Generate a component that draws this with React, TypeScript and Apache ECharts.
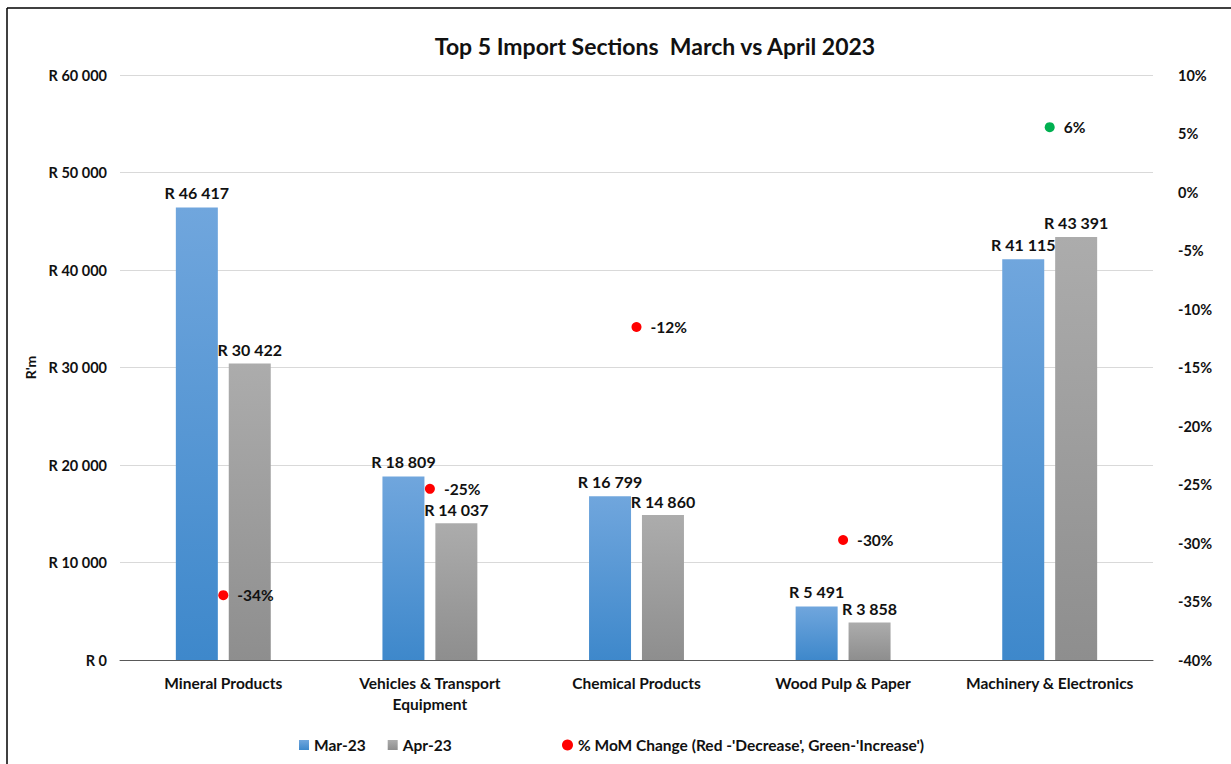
import React, { useEffect, useRef } from "react";
import * as echarts from "echarts";

const categories = [
  "Mineral Products",
  "Vehicles & Transport\nEquipment",
  "Chemical Products",
  "Wood Pulp & Paper",
  "Machinery & Electronics",
];
const mar23 = [46417, 18809, 16799, 5491, 41115];
const apr23 = [30422, 14037, 14860, 3858, 43391];
const momChange = [-34.46, -25.37, -11.54, -29.74, 5.54];
const leftTicks = { min: 0, max: 60000, interval: 10000 };
const rightTicks = { min: -40, max: 10, interval: 5 };

const FONT = "Lato, 'Liberation Sans', sans-serif";

function fmtR(v: number) {
  return "R " + Math.round(v).toString().replace(/\B(?=(\d{3})+(?!\d))/g, " ");
}

export default function App() {
  const ref = useRef<HTMLDivElement>(null);
  useEffect(() => {
    if (!ref.current) return;
    const chart = echarts.init(ref.current, undefined, { renderer: "svg" });
    const blue = new echarts.graphic.LinearGradient(0, 0, 0, 1, [
      { offset: 0, color: "#70a6dd" },
      { offset: 1, color: "#3e88cb" },
    ]);
    const gray = new echarts.graphic.LinearGradient(0, 0, 0, 1, [
      { offset: 0, color: "#acacac" },
      { offset: 1, color: "#8e8e8e" },
    ]);
    const labelStyle = {
      fontFamily: FONT,
      fontWeight: "bold" as const,
      fontSize: 16,
      color: "#111",
    };
    chart.setOption({
      animation: false,
      backgroundColor: "#fff",
      textStyle: { fontFamily: FONT },
      graphic: [
        {
          type: "line",
          shape: { x1: 7, y1: 8, x2: 1231, y2: 8 },
          style: { stroke: "#000", lineWidth: 1.5 },
        },
        {
          type: "line",
          shape: { x1: 7, y1: 8, x2: 7, y2: 764 },
          style: { stroke: "#000", lineWidth: 1.5 },
        },
        {
          type: "text",
          x: 655,
          y: 46,
          style: {
            text: "Top 5 Import Sections  March vs April 2023",
            fill: "#111",
            font: `bold 23px ${FONT}`,
            textAlign: "center",
            textVerticalAlign: "middle",
            align: "center",
            verticalAlign: "middle",
          },
        },
      ],
      grid: { left: 120, right: 78, top: 75, bottom: 104 },
      legend: [
        {
          left: 294,
          top: 732,
          itemWidth: 10,
          itemHeight: 10,
          itemGap: 22,
          icon: "rect",
          data: ["Mar-23", "Apr-23"],
          textStyle: { ...labelStyle, fontSize: 15.5 },
        },
        {
          left: 557,
          top: 732,
          itemWidth: 11,
          itemHeight: 11,
          icon: "circle",
          data: ["% MoM Change (Red -'Decrease', Green-'Increase')"],
          textStyle: { ...labelStyle, fontSize: 15.5 },
        },
      ],
      xAxis: {
        type: "category",
        data: categories,
        axisTick: { show: false },
        axisLine: { lineStyle: { color: "#595959", width: 1 } },
        axisLabel: { ...labelStyle, fontSize: 15.5, margin: 12, lineHeight: 21, interval: 0 },
      },
      yAxis: [
        {
          type: "value",
          ...leftTicks,
          name: "R'm",
          nameLocation: "middle",
          nameRotate: 90,
          nameGap: 80,
          nameTextStyle: { ...labelStyle, fontSize: 14 },
          axisLine: { show: false },
          axisTick: { show: false },
          axisLabel: { ...labelStyle, fontSize: 14.5, margin: 13, formatter: (v: number) => fmtR(v) },
          splitLine: { lineStyle: { color: "#d9d9d9", width: 1 } },
        },
        {
          type: "value",
          ...rightTicks,
          position: "right",
          axisLine: { show: false },
          axisTick: { show: false },
          splitLine: { show: false },
          axisLabel: { ...labelStyle, fontSize: 14.5, margin: 25, formatter: (v: number) => `${v}%` },
        },
      ],
      series: [
        {
          name: "Mar-23",
          type: "bar",
          data: mar23,
          barWidth: 42,
          barGap: "26%",
          itemStyle: { color: blue },
          label: { show: true, position: "top", distance: 7, ...labelStyle, formatter: (p: any) => fmtR(p.value) },
        },
        {
          name: "Apr-23",
          type: "bar",
          data: apr23,
          barWidth: 42,
          barGap: "26%",
          itemStyle: { color: gray },
          label: { show: true, position: "top", distance: 6, ...labelStyle, formatter: (p: any) => fmtR(p.value) },
        },
        {
          name: "% MoM Change (Red -'Decrease', Green-'Increase')",
          type: "scatter",
          yAxisIndex: 1,
          symbolSize: 10,
          itemStyle: { color: "#ff0000", opacity: 1 },
          data: momChange.map((v) => ({
            value: v,
            itemStyle: { color: v >= 0 ? "#00b050" : "#ff0000", opacity: 1 },
          })),
          label: {
            show: true,
            position: "right",
            distance: 9,
            ...labelStyle,
            fontSize: 15.5,
            formatter: (p: any) => `${Math.round(p.value)}%`,
          },
        },
      ],
    });
    return () => chart.dispose();
  }, []);
  return (
    <div
      ref={ref}
      style={{ position: "fixed", left: 0, top: 0, width: 1231, height: 764, background: "#fff" }}
    />
  );
}
